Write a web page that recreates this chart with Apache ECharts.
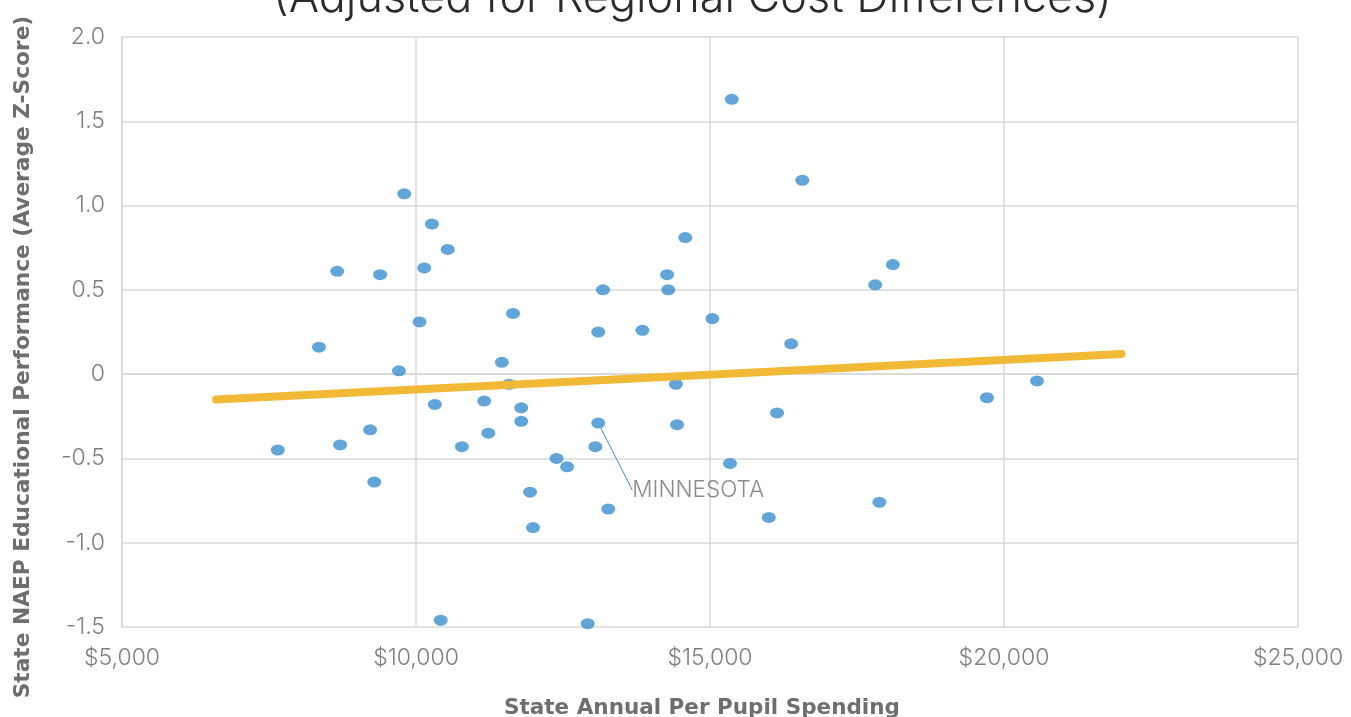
<!DOCTYPE html>
<html>
<head>
<meta charset="utf-8">
<script src="https://cdn.jsdelivr.net/npm/echarts@6/dist/echarts.min.js"></script>
<style>
  html, body { margin: 0; padding: 0; background: #fff; }
  #chart { width: 1351px; height: 717px; }
</style>
</head>
<body>
<div id="chart"></div>
<script>
// per pupil spending ($) and NAEP z-score, one entry per state
const spending = [
  7650, 8350, 8660, 8710, 9220, 9290, 9390, 9710, 9800, 10060,
  10140, 10270, 10320, 10420, 10540, 10780, 11160, 11230, 11460, 11580,
  11650, 11790, 11790, 11940, 11990, 12390, 12570, 12920, 13050, 13100,
  13180, 13270, 13850, 14270, 14290, 14420, 14440, 14580, 15040, 15340,
  15370, 16000, 16140, 16380, 16570, 17810, 17880, 18110, 19710, 20560
];
const zScore = [
  -0.45, 0.16, 0.61, -0.42, -0.33, -0.64, 0.59, 0.02, 1.07, 0.31,
  0.63, 0.89, -0.18, -1.46, 0.74, -0.43, -0.16, -0.35, 0.07, -0.06,
  0.36, -0.20, -0.28, -0.70, -0.91, -0.50, -0.55, -1.48, -0.43, 0.25,
  0.50, -0.80, 0.26, 0.59, 0.50, -0.06, -0.30, 0.81, 0.33, -0.53,
  1.63, -0.85, -0.23, 0.18, 1.15, 0.53, -0.76, 0.65, -0.14, -0.04
];
const minnesota = [13100, -0.29];
const trendX = [6600, 22000];
const trendY = [-0.15, 0.12];
const xTicks = [5000, 10000, 15000, 20000, 25000];
const yTicks = [-1.5, -1.0, -0.5, 0, 0.5, 1.0, 1.5, 2.0];

const chart = echarts.init(document.getElementById('chart'));
const font = 'Inter, "Open Sans", sans-serif';
const boldFont = '"DejaVu Sans", sans-serif';
const gridColor = '#d9d9d9';
const dotColor = '#3a8fd0';

chart.setOption({
  animation: false,
  backgroundColor: '#fff',
  title: {
    text: '(Adjusted for Regional Cost Differences)',
    left: 268,
    top: -29,
    textStyle: { fontFamily: font, fontSize: 45, fontWeight: 300, color: '#2b2b2b' }
  },
  grid: { left: 122, right: 53, top: 37, bottom: 90, outerBoundsMode: 'none', containLabel: false },
  xAxis: {
    type: 'value',
    min: xTicks[0],
    max: xTicks[xTicks.length - 1],
    interval: 5000,
    name: 'State Annual Per Pupil Spending',
    nameLocation: 'middle',
    nameGap: 70,
    nameTextStyle: {
      fontFamily: boldFont, fontSize: 21.5, fontWeight: 'bold', color: '#6d6e71',
      padding: [0, 16, 0, 0]
    },
    axisLine: { show: true, lineStyle: { color: gridColor, width: 1.5 } },
    axisTick: { show: false },
    splitLine: { show: true, lineStyle: { color: gridColor, width: 1.5 } },
    axisLabel: {
      margin: 20,
      fontFamily: font, fontSize: 23, fontWeight: 300, color: '#7f7f7f',
      formatter: v => '$' + v.toLocaleString('en-US')
    }
  },
  yAxis: {
    type: 'value',
    min: yTicks[0],
    max: yTicks[yTicks.length - 1],
    interval: 0.5,
    name: 'State NAEP Educational Performance (Average Z-Score)',
    nameLocation: 'middle',
    nameGap: 88,
    nameTextStyle: {
      fontFamily: boldFont, fontSize: 21.7, fontWeight: 'bold', color: '#6d6e71',
      padding: [0, 50, 0, 0]
    },
    axisLine: { show: true, lineStyle: { color: gridColor, width: 1.5 } },
    axisTick: { show: false },
    splitLine: { show: true, lineStyle: { color: gridColor, width: 1.5 } },
    axisLabel: {
      margin: 17,
      padding: [9, 0, 0, 0],
      fontFamily: font, fontSize: 23, fontWeight: 300, color: '#7f7f7f',
      formatter: v => v === 0 ? '0' : v.toFixed(1)
    }
  },
  series: [
    {
      type: 'scatter',
      symbol: 'circle',
      symbolSize: [14, 11],
      itemStyle: { color: dotColor },
      data: spending.map((x, i) => [x, zScore[i]]),
      z: 2
    },
    {
      type: 'scatter',
      symbol: 'circle',
      symbolSize: [14, 11],
      itemStyle: { color: dotColor },
      data: [minnesota],
      label: {
        show: true,
        position: 'right',
        formatter: 'MINNESOTA',
        fontFamily: font, fontSize: 22.5, fontWeight: 300, color: '#6d6e71'
      },
      labelLayout: { dx: 22, dy: 67 },
      labelLine: { show: true, lineStyle: { color: dotColor, width: 1 } },
      z: 2
    },
    {
      type: 'line',
      data: trendX.map((x, i) => [x, trendY[i]]),
      symbol: 'none',
      lineStyle: { color: '#f2b937', width: 8, cap: 'round' },
      z: 3
    }
  ]
});
</script>
</body>
</html>
